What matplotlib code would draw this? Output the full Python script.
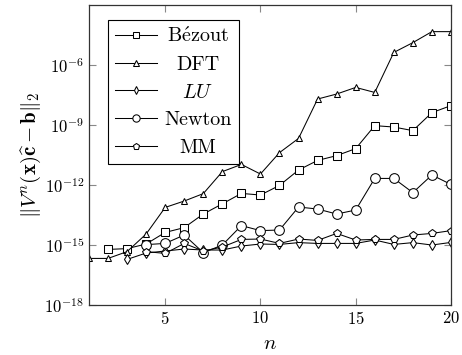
import matplotlib
matplotlib.use("Agg")
import matplotlib.pyplot as plt
import numpy as np

plt.rcParams['font.family'] = 'serif'
plt.rcParams['font.serif'] = ['cmr10']
plt.rcParams['mathtext.fontset'] = 'cm'
plt.rcParams['axes.formatter.use_mathtext'] = True

# log10 of the residuals
n_dft = np.arange(1, 21)
dft = [-15.67, -15.67, -15.33, -14.45, -13.12, -12.8, -12.43, -11.33, -10.97, -11.45,
       -10.38, -9.67, -7.7, -7.45, -7.12, -7.37, -5.37, -4.88, -4.33, -4.33]
n_bez = np.arange(2, 21)
bezout = [-15.22, -15.18, -14.95, -14.37, -14.13, -13.45, -12.94, -12.42, -12.5,
          -12.02, -11.25, -10.77, -10.53, -10.18, -9.03, -9.1, -9.28, -8.38, -8.03]
n_lu = np.arange(3, 21)
lu = [-15.72, -15.4, -15.3, -15.2, -15.25, -15.25, -15.05, -14.95, -14.97, -14.88,
      -14.92, -14.92, -14.92, -14.75, -14.97, -14.88, -15.0, -14.87]
n_newt = np.arange(4, 21)
newton = [-14.98, -14.92, -14.5, -15.38, -15.0, -14.03, -14.28, -14.25, -13.1, -13.2,
          -13.45, -13.25, -11.67, -11.67, -12.38, -11.5, -11.97]
n_mm = np.arange(4, 21)
mm = [-15.33, -15.42, -14.92, -15.3, -15.1, -14.72, -14.7, -14.92, -14.7, -14.77,
      -14.42, -14.75, -14.72, -14.72, -14.5, -14.42, -14.28]

fig = plt.figure(figsize=(4.62, 3.55), dpi=100)
ax = fig.add_axes([0.1926, 0.1408, 0.7835, 0.845])

style = dict(color='black', lw=0.75, mfc='white', mec='black', mew=0.75)
ax.semilogy(n_bez, 10.0 ** np.array(bezout), marker='s', ms=6, label=r'$\mathrm{B\acute{e}zout}$', **style)
ax.semilogy(n_dft, 10.0 ** np.array(dft), marker='^', ms=5, label='DFT', **style)
ax.semilogy(n_lu, 10.0 ** np.array(lu), marker='d', ms=5, label=r'$LU$', **style)
ax.semilogy(n_newt, 10.0 ** np.array(newton), marker='o', ms=7, label='Newton', **style)
ax.semilogy(n_mm, 10.0 ** np.array(mm), marker='p', ms=6, label='MM', **style)

ax.set_xlim(1, 20)
ax.set_ylim(1e-18, 1e-3)
ax.set_xticks([5, 10, 15, 20])
ax.set_yticks([1e-18, 1e-15, 1e-12, 1e-9, 1e-6])
ax.minorticks_off()
ax.tick_params(direction='in', top=True, right=True, labelsize=12, length=5,
               color='#888888', width=0.8)
for s in ax.spines.values():
    s.set_color('#333333')
    s.set_linewidth(0.9)

ax.set_xlabel(r'$n$', fontsize=15, labelpad=6)
ax.set_ylabel(r'$\|V^n(\mathbf{x})\widehat{\mathbf{c}}-\mathbf{b}\|_2$', fontsize=15, labelpad=1)

leg = ax.legend(loc='upper left', fontsize=14.5, fancybox=False, framealpha=1,
                edgecolor='black', handlelength=2.1, borderpad=0.35, labelspacing=0.47,
                handletextpad=0.35, markerscale=0.75, borderaxespad=0,
                bbox_to_anchor=(0.052, 0.95))
leg.get_frame().set_linewidth(0.8)

# centre the labels inside the legend like pgfplots does
fig.canvas.draw()
r = fig.canvas.get_renderer()
widths = [t.get_window_extent(r).width for t in leg.get_texts()]
for t, w in zip(leg.get_texts(), widths):
    t.set_x((max(widths) - w) / 2)

fig.savefig("out.png")
